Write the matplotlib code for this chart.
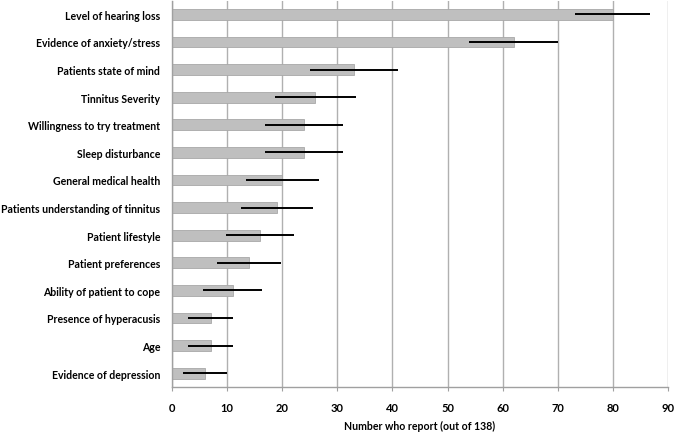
import matplotlib
matplotlib.use("Agg")
import matplotlib.pyplot as plt
import numpy as np

categories = [
    "Level of hearing loss",
    "Evidence of anxiety/stress",
    "Patients state of mind",
    "Tinnitus Severity",
    "Willingness to try treatment",
    "Sleep disturbance",
    "General medical health",
    "Patients understanding of tinnitus",
    "Patient lifestyle",
    "Patient preferences",
    "Ability of patient to cope",
    "Presence of hyperacusis",
    "Age",
    "Evidence of depression",
]
values = [80, 62, 33, 26, 24, 24, 20, 19, 16, 14, 11, 7, 7, 6]
errors = [6.8, 8.1, 8.0, 7.3, 7.1, 7.1, 6.6, 6.5, 6.2, 5.8, 5.3, 4.1, 4.1, 4.0]
xticks = [0, 10, 20, 30, 40, 50, 60, 70, 80, 90]

plt.rcParams['font.family'] = ['Lato', 'DejaVu Sans']
fs = 7.6

fig = plt.figure(figsize=(6.75, 4.35), dpi=100)
ax = fig.add_axes([172/675, 1-388/435, (668-172)/675, 386.5/435])

y = np.arange(len(categories))
ax.barh(y, values, height=0.39, color="#bfbfbf", edgecolor="#a8a8a8", linewidth=0.6, zorder=2)
ax.errorbar(values, y, xerr=errors, fmt="none", ecolor="black", elinewidth=1.4, capsize=0, zorder=3)

ax.set_ylim(len(categories) - 0.5, -0.5)
ax.set_xlim(0, 90)
ax.set_xticks(xticks)
ax.set_xticklabels([str(t) for t in xticks], fontsize=fs + 0.4, fontweight="bold")
ax.set_yticks(y)
ax.set_yticklabels(categories, fontsize=fs, fontweight="bold")
ax.tick_params(axis="y", length=0, pad=8.5)
ax.tick_params(axis="x", length=3, color="#a0a0a0", pad=8)
ax.xaxis.grid(True, color="#b0b0b0", linewidth=1.0, zorder=0)
ax.set_axisbelow(True)
for s in ["top", "right"]:
    ax.spines[s].set_visible(False)
for s in ["left", "bottom"]:
    ax.spines[s].set_color("#a0a0a0")
    ax.spines[s].set_linewidth(1.0)
ax.set_xlabel("Number who report (out of 138)", fontsize=fs, fontweight="bold", labelpad=5)

fig.savefig("out.png", dpi=100)
